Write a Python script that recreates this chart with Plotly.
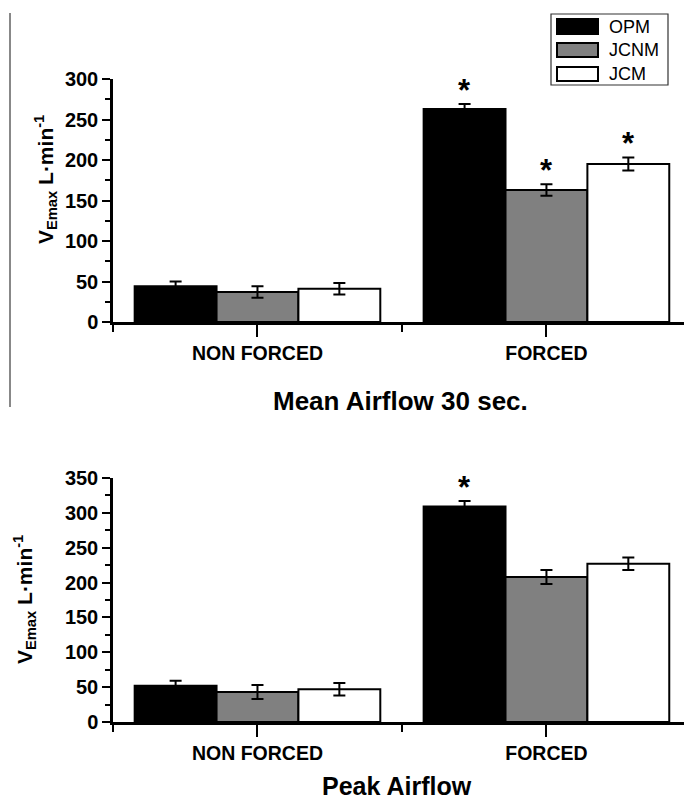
import plotly.graph_objects as go

# ---------------- data ----------------
categories = ["NON FORCED", "FORCED"]
series_names = ["OPM", "JCNM", "JCM"]

mean_opm = [44, 263]
mean_jcnm = [37, 163]
mean_jcm = [41, 195]
mean_opm_err = [6, 6]
mean_jcnm_err = [7, 7]
mean_jcm_err = [7, 8]
mean_sig_opm = [False, True]
mean_sig_jcnm = [False, True]
mean_sig_jcm = [False, True]

peak_opm = [52, 309]
peak_jcnm = [43, 208]
peak_jcm = [47, 227]
peak_opm_err = [7, 8]
peak_jcnm_err = [10, 10]
peak_jcm_err = [9, 9]
peak_sig_opm = [False, True]
peak_sig_jcnm = [False, False]
peak_sig_jcm = [False, False]

mean_title = "Mean Airflow 30 sec."
peak_title = "Peak Airflow"
y_label = "V<sub>Emax</sub> L·min<sup>-1</sup>"

# ---------------- style ----------------
W, H = 684, 803
FONT = "Liberation Sans, Arial, sans-serif"
fills = ["#000000", "#808080", "#ffffff"]
BARGAP = 0.15
x_pos = list(range(len(categories)))


def px(x):
    return x / W


def py(y):
    return 1 - y / H


fig = go.Figure()

panels = [
    dict(vals=[mean_opm, mean_jcnm, mean_jcm],
         errs=[mean_opm_err, mean_jcnm_err, mean_jcm_err],
         sigs=[mean_sig_opm, mean_sig_jcnm, mean_sig_jcm],
         xa="x", ya="y"),
    dict(vals=[peak_opm, peak_jcnm, peak_jcm],
         errs=[peak_opm_err, peak_jcnm_err, peak_jcm_err],
         sigs=[peak_sig_opm, peak_sig_jcnm, peak_sig_jcm],
         xa="x2", ya="y2"),
]

bar_w = (1 - BARGAP) / len(series_names)
annotations = []
for p in panels:
    for i, name in enumerate(series_names):
        fig.add_trace(go.Bar(
            x=x_pos, y=p["vals"][i], name=name, showlegend=False,
            marker=dict(color=fills[i], line=dict(color="black", width=2)),
            error_y=dict(type="data", array=p["errs"][i], visible=True,
                         color="black", thickness=2, width=6),
            xaxis=p["xa"], yaxis=p["ya"],
        ))
        offset = (i - (len(series_names) - 1) / 2) * bar_w
        for j, sig in enumerate(p["sigs"][i]):
            if sig:
                annotations.append(dict(
                    x=x_pos[j] + offset, y=p["vals"][i][j] + p["errs"][i][j],
                    xref=p["xa"], yref=p["ya"], text="*", showarrow=False,
                    yanchor="middle", yshift=14,
                    font=dict(family=FONT, size=31, color="black", weight="bold"),
                ))

axis_common = dict(showline=True, linecolor="black", linewidth=2.5,
                   showgrid=False, zeroline=False, ticks="outside",
                   tickcolor="black", tickwidth=2, automargin=False)

xaxis_common = dict(axis_common, range=[-0.5, 1.476], tickvals=x_pos,
                    ticktext=categories, ticklen=12,
                    tickfont=dict(family=FONT, size=19.5, color="black", weight="bold"),
                    minor=dict(tickvals=[-0.5, 0.5], ticklen=7,
                               tickcolor="black", tickwidth=2, ticks="outside"))

yaxis_common = dict(axis_common, ticklen=8,
                    tickfont=dict(family=FONT, size=20, color="black", weight="bold"),
                    minor=dict(dtick=25, ticklen=5, tickcolor="black",
                               tickwidth=2, ticks="outside"))

fig.update_layout(
    width=W, height=H,
    margin=dict(l=0, r=0, t=0, b=0, pad=0, autoexpand=False),
    paper_bgcolor="white", plot_bgcolor="white",
    barmode="group", bargap=BARGAP, bargroupgap=0,
    xaxis=dict(xaxis_common, domain=[px(113), 1], anchor="y"),
    yaxis=dict(yaxis_common, domain=[py(322), py(79)], range=[0, 300],
               dtick=50, anchor="x"),
    xaxis2=dict(xaxis_common, domain=[px(113), 1], anchor="y2"),
    yaxis2=dict(yaxis_common, domain=[py(722), py(478)], range=[0, 350],
                dtick=50, anchor="x2"),
)

# titles and y labels
annotations += [
    dict(x=px(400), y=py(401), xref="paper", yref="paper", text=mean_title,
         showarrow=False, xanchor="center", yanchor="middle",
         font=dict(family=FONT, size=26, color="black", weight="bold")),
    dict(x=px(397), y=py(802), xref="paper", yref="paper", text=peak_title,
         showarrow=False, xanchor="center", yanchor="bottom",
         font=dict(family=FONT, size=25, color="black", weight="bold")),
    dict(x=px(45), y=py(180), xref="paper", yref="paper", text=y_label,
         showarrow=False, textangle=-90, xanchor="center", yanchor="middle",
         font=dict(family=FONT, size=21, color="black", weight="bold")),
    dict(x=px(24), y=py(600), xref="paper", yref="paper", text=y_label,
         showarrow=False, textangle=-90, xanchor="center", yanchor="middle",
         font=dict(family=FONT, size=21, color="black", weight="bold")),
]

# legend (drawn box)
shapes = [
    dict(type="rect", xref="paper", yref="paper", x0=px(551), x1=px(668),
         y0=py(85), y1=py(14), line=dict(color="#333", width=1.2), fillcolor="white"),
    dict(type="line", xref="paper", yref="paper", x0=px(10), x1=px(10),
         y0=py(407), y1=py(13), line=dict(color="#888", width=2)),
]
leg_rows = [(19, 34), (43, 57), (67, 81)]
for i, name in enumerate(series_names):
    y0, y1 = leg_rows[i]
    shapes.append(dict(type="rect", xref="paper", yref="paper",
                       x0=px(557), x1=px(598), y0=py(y1), y1=py(y0),
                       fillcolor=fills[i], line=dict(color="black", width=2)))
    annotations.append(dict(x=px(607), y=py((y0 + y1) / 2), xref="paper",
                            yref="paper", text=name, showarrow=False,
                            xanchor="left", yanchor="middle",
                            font=dict(family=FONT, size=18, color="black")))

fig.update_layout(annotations=annotations, shapes=shapes)

page_fix = ("document.documentElement.style.margin='0';"
            "document.documentElement.style.padding='0';"
            "document.body.style.margin='0';"
            "document.body.style.padding='0';"
            "document.body.style.overflow='hidden';")

fig.write_html("out.html", post_script=page_fix,
               config={"displayModeBar": False})
